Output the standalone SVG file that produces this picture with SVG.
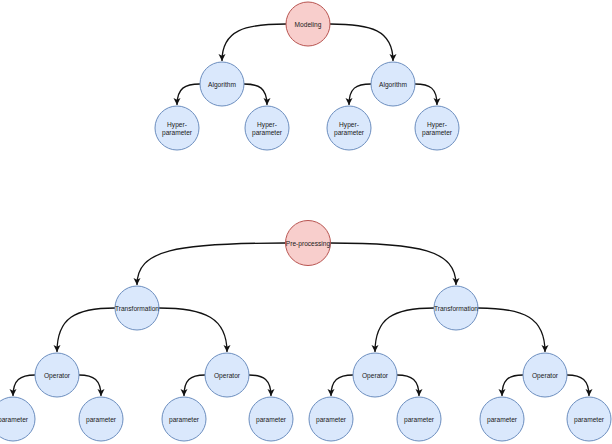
<svg xmlns="http://www.w3.org/2000/svg" width="612" height="444" viewBox="0 0 612 444">
<defs>
<marker id="arr" markerUnits="userSpaceOnUse" markerWidth="9" markerHeight="8" refX="7" refY="3.5" orient="auto">
<path d="M0,0 L7,3.5 L0,7 L1.8,3.5 z" fill="#111"/>
</marker>
<style>
.b{fill:#dae8fc;stroke:#6c8ebf;stroke-width:1}
.r{fill:#f8cecc;stroke:#b85450;stroke-width:1}
text{font-family:"Liberation Sans",Arial,sans-serif;font-size:6.6px;fill:#1a1a1a;text-anchor:middle;dominant-baseline:central}
.e{fill:none;stroke:#111;stroke-width:1.3;marker-end:url(#arr)}
</style>
</defs>
<rect width="612" height="444" fill="#fff"/>
<g id="connectors">
<path class="e" d="M286,24 C245,24 222,30 222,61"/>
<path class="e" d="M330,24 C371,24 393,30 393,61"/>
<path class="e" d="M200,84 C185,84 177,88 177,105"/>
<path class="e" d="M244,84 C259,84 267,88 267,105"/>
<path class="e" d="M371,84 C356,84 349,88 349,105"/>
<path class="e" d="M415,84 C430,84 437,88 437,105"/>
<path class="e" d="M285,243 C175,243 137,250 137,285"/>
<path class="e" d="M330,243 C420,243 456,250 456,285"/>
<path class="e" d="M115,308 C75,308 57,318 57,352"/>
<path class="e" d="M159,308 C205,308 227,318 227,352"/>
<path class="e" d="M434,308 C393,308 375,318 375,352"/>
<path class="e" d="M478,308 C525,308 545,318 545,352"/>
<path class="e" d="M35,375 C20,375 13,380 13,396"/>
<path class="e" d="M79,375 C94,375 101,380 101,396"/>
<path class="e" d="M205,375 C190,375 184,380 184,396"/>
<path class="e" d="M249,375 C264,375 271,380 271,396"/>
<path class="e" d="M353,375 C338,375 331,380 331,396"/>
<path class="e" d="M397,375 C412,375 419,380 419,396"/>
<path class="e" d="M523,375 C508,375 502,380 502,396"/>
<path class="e" d="M567,375 C582,375 589,380 589,396"/>
</g>
<g id="modeling"><circle class="r" cx="308" cy="24" r="22"/><text x="308" y="24">Modeling</text></g>
<g id="algorithm1"><circle class="b" cx="222" cy="84" r="22"/><text x="222" y="84">Algorithm</text></g>
<g id="algorithm2"><circle class="b" cx="393" cy="84" r="22"/><text x="393" y="84">Algorithm</text></g>
<g id="hyper1"><circle class="b" cx="177" cy="128" r="22"/><text x="177" y="124">Hyper-</text><text x="177" y="132">parameter</text></g>
<g id="hyper2"><circle class="b" cx="267" cy="128" r="22"/><text x="267" y="124">Hyper-</text><text x="267" y="132">parameter</text></g>
<g id="hyper3"><circle class="b" cx="349" cy="128" r="22"/><text x="349" y="124">Hyper-</text><text x="349" y="132">parameter</text></g>
<g id="hyper4"><circle class="b" cx="437" cy="128" r="22"/><text x="437" y="124">Hyper-</text><text x="437" y="132">parameter</text></g>
<g id="preprocessing"><circle class="r" cx="308" cy="243" r="22.5"/><text x="308" y="243">Pre-processing</text></g>
<g id="transformation1"><circle class="b" cx="137" cy="308" r="22"/><text x="137" y="308">Transformation</text></g>
<g id="transformation2"><circle class="b" cx="456" cy="308" r="22"/><text x="456" y="308">Transformation</text></g>
<g id="operator1"><circle class="b" cx="57" cy="375" r="22"/><text x="57" y="375">Operator</text></g>
<g id="operator2"><circle class="b" cx="227" cy="375" r="22"/><text x="227" y="375">Operator</text></g>
<g id="operator3"><circle class="b" cx="375" cy="375" r="22"/><text x="375" y="375">Operator</text></g>
<g id="operator4"><circle class="b" cx="545" cy="375" r="22"/><text x="545" y="375">Operator</text></g>
<g id="param1"><circle class="b" cx="13" cy="419" r="22"/><text x="13" y="419">parameter</text></g>
<g id="param2"><circle class="b" cx="101" cy="419" r="22"/><text x="101" y="419">parameter</text></g>
<g id="param3"><circle class="b" cx="184" cy="419" r="22"/><text x="184" y="419">parameter</text></g>
<g id="param4"><circle class="b" cx="271" cy="419" r="22"/><text x="271" y="419">parameter</text></g>
<g id="param5"><circle class="b" cx="331" cy="419" r="22"/><text x="331" y="419">parameter</text></g>
<g id="param6"><circle class="b" cx="419" cy="419" r="22"/><text x="419" y="419">parameter</text></g>
<g id="param7"><circle class="b" cx="502" cy="419" r="22"/><text x="502" y="419">parameter</text></g>
<g id="param8"><circle class="b" cx="589" cy="419" r="22"/><text x="589" y="419">parameter</text></g>
</svg>
